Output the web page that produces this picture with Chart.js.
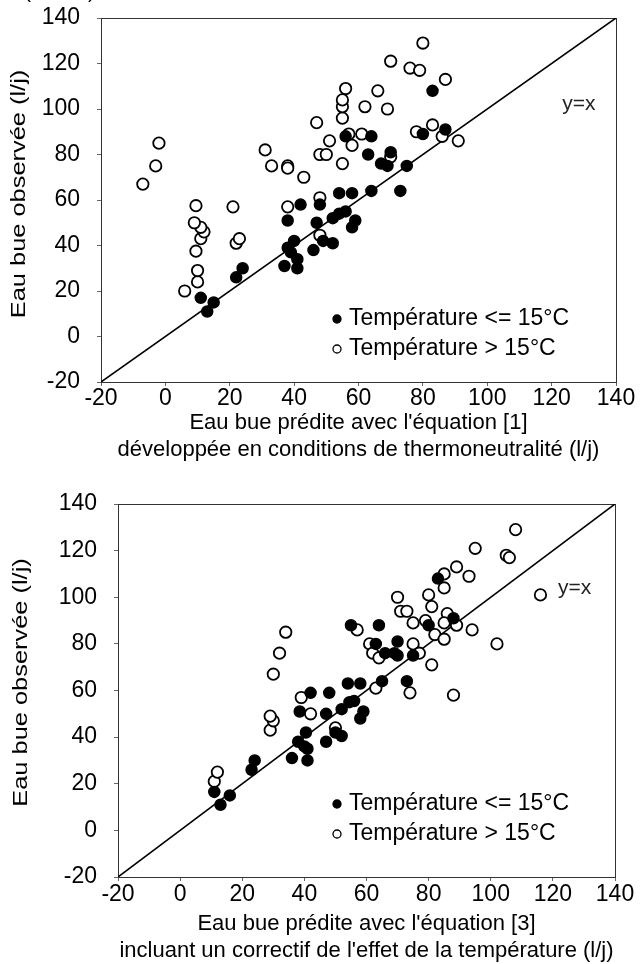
<!DOCTYPE html>
<html>
<head>
<meta charset="utf-8">
<script src="https://cdn.jsdelivr.net/npm/chart.js@4.4.0/dist/chart.umd.min.js"></script>
<style>
  html, body { margin: 0; padding: 0; background: #fff; }
  body { width: 641px; height: 964px; position: relative; overflow: hidden; }
  .bloc { position: absolute; left: 0; width: 641px; }
</style>
</head>
<body>
<div class="bloc" style="top:0;height:470px"><canvas id="graphHaut" width="641" height="470"></canvas></div>
<div class="bloc" style="top:470px;height:510px"><canvas id="graphBas" width="641" height="510"></canvas></div>
<script>
// Graduations communes aux deux axes
const graduations = [-20, 0, 20, 40, 60, 80, 100, 120, 140];
const diagonale = [-20, 140];

// Graphique 1 : équation [1] (thermoneutralité)
const froid1X = [11, 13, 15, 22, 24, 37, 38, 39, 40, 41, 41, 38, 42, 46, 47, 48, 49, 52, 52, 54, 56, 58, 59, 54, 58, 64, 73, 56, 64, 63, 70, 67, 69, 75, 80, 87, 83];
const froid1Y = [17, 11, 15, 26, 30, 31, 39, 37, 42, 34, 30, 51, 58, 38, 50, 58, 42, 41, 52, 54, 55, 48, 51, 63, 63, 64, 64, 88, 88, 80, 81, 76, 75, 75, 89, 91, 108];
const chaud1X = [-7, -3, -2, 6, 10, 10, 9.5, 11, 12, 11, 9, 9.5, 21, 22, 23, 31, 33, 38, 38, 38, 43, 47, 48, 50, 51, 55, 55, 55, 55, 56, 57, 58, 61, 48, 48, 62, 66, 69, 70, 70, 76, 79, 80, 78, 83, 86, 91, 87];
const chaud1Y = [67, 75, 85, 20, 24, 29, 37.5, 43, 46, 48, 50, 57.5, 57, 41, 43, 82, 75, 75, 74, 57, 70, 94, 80, 80, 86, 76, 96, 101, 104, 109, 89, 84, 89, 61, 44.5, 101, 108, 100, 79, 121, 118, 117, 129, 90, 93, 88, 86, 113];

// Graphique 2 : équation [3] (correctif température)
const froid2X = [11, 13, 16, 23, 24, 36, 38, 40, 40.5, 41, 41, 38.5, 42, 47, 47, 48, 50, 52, 52, 54.5, 56, 59, 58, 54, 58, 65, 73, 55, 64, 80, 88, 63, 70, 66, 69, 70, 75, 83];
const froid2Y = [16.5, 11, 15, 26, 30, 31, 38, 36, 42, 35, 30, 51, 59, 38, 50, 59, 42, 40.5, 52, 55, 55.5, 51, 48, 63, 63, 64, 64, 88, 88, 88, 91, 80, 81, 76, 76, 75, 75, 108];
const chaud2X = [11, 12, 29, 30, 29, 30, 32, 34, 39, 42, 50, 57, 61, 62, 64, 63, 74, 88, 81, 75, 77, 75, 79, 71, 73, 70, 80, 81, 85, 85, 86, 85, 89, 94, 102, 82, 85, 89, 93, 95, 105, 106, 108, 116];
const chaud2Y = [21, 25, 43, 47, 49, 67, 76, 85, 57, 50, 44, 86, 80, 76, 74, 61, 59, 58, 71, 80, 76, 89, 90, 94, 94, 100, 101, 96, 110, 104, 93, 89, 88, 86, 80, 84, 82, 113, 109, 121, 118, 117, 129, 101];

const police = 'Liberation Sans, Arial, sans-serif';
const titreY = 'Eau bue observée (l/j)';

function points(xs, ys) {
    return xs.map((x, i) => ({ x: x, y: ys[i] }));
}

// cadre complet autour de la zone de tracé
const cadre = {
    id: 'cadre',
    beforeDatasetsDraw(chart) {
        const a = chart.chartArea;
        const ctx = chart.ctx;
        ctx.save();
        ctx.strokeStyle = '#333';
        ctx.lineWidth = 1;
        ctx.strokeRect(a.left + 0.5, a.top + 0.5, a.right - a.left, a.bottom - a.top);
        ctx.restore();
    }
};

// légende dans le graphique, étiquette y=x et titre vertical (étiré comme l'original)
const legendeInterne = {
    id: 'legendeInterne',
    afterDraw(chart, args, opts) {
        const ctx = chart.ctx;
        const a = chart.chartArea;
        ctx.save();
        ctx.font = '23px ' + police;
        ctx.fillStyle = '#000';
        ctx.textBaseline = 'middle';
        let y = a.bottom - opts.bas;
        chart.data.datasets.forEach(ds => {
            if (!ds.legende) return;
            const mx = a.right - opts.droite;
            ctx.beginPath();
            ctx.arc(mx, y, 4, 0, Math.PI * 2);
            ctx.fillStyle = ds.backgroundColor;
            ctx.fill();
            ctx.lineWidth = 1.3;
            ctx.strokeStyle = '#000';
            ctx.stroke();
            ctx.fillStyle = '#000';
            ctx.fillText(ds.legende, mx + 12, y);
            y += opts.pas;
        });
        // y=x
        const sx = chart.scales.x, sy = chart.scales.y;
        ctx.font = '21px ' + police;
        ctx.fillStyle = '#222';
        ctx.textAlign = 'center';
        ctx.fillText('y=x', sx.getPixelForValue(opts.etiquetteX), sy.getPixelForValue(opts.etiquetteY));
        // titre de l'axe vertical
        ctx.save();
        ctx.translate(opts.titreX, (a.top + a.bottom) / 2 - opts.decalageTitre);
        ctx.rotate(-Math.PI / 2);
        ctx.scale(1.27, 1);
        ctx.font = '20px ' + police;
        ctx.fillStyle = '#000';
        ctx.fillText(titreY, 0, 0);
        ctx.restore();
        if (opts.fragment) {
            ctx.textAlign = 'left';
            ctx.fillStyle = '#000';
            ctx.fillText('(', 24, -8);
            ctx.fillText(')', 88, -8);
        }
        ctx.restore();
    }
};

function creerGraphique(id, froid, chaud, titreX, reglages) {
    const ctx = document.getElementById(id).getContext('2d');
    return new Chart(ctx, {
        type: 'scatter',
        data: {
            datasets: [
                {
                    legende: 'Température <= 15°C',
                    data: froid,
                    backgroundColor: '#000',
                    borderColor: '#000',
                    borderWidth: 1.5,
                    pointRadius: 5.5,
                    order: 1
                },
                {
                    legende: 'Température > 15°C',
                    data: chaud,
                    backgroundColor: '#fff',
                    borderColor: '#000',
                    borderWidth: 1.8,
                    pointRadius: 5.7,
                    order: 2
                },
                {
                    type: 'line',
                    data: points(diagonale, diagonale),
                    borderColor: '#000',
                    borderWidth: 1.6,
                    pointRadius: 0,
                    order: 3
                }
            ]
        },
        options: {
            responsive: false,
            animation: false,
            events: [],
            layout: { padding: { left: 0, top: reglages.haut, right: reglages.droite, bottom: 0 } },
            plugins: {
                legend: { display: false },
                tooltip: { enabled: false },
                legendeInterne: reglages.legende
            },
            scales: {
                x: {
                    type: 'linear',
                    min: -20,
                    max: 140,
                    afterBuildTicks: s => { s.ticks = graduations.map(v => ({ value: v })); },
                    grid: { drawOnChartArea: false, drawTicks: true, tickLength: 4, color: '#666' },
                    border: { display: true, color: '#333' },
                    ticks: {
                        color: '#000',
                        padding: reglages.tickBas,
                        maxRotation: 0,
                        autoSkip: false,
                        font: { family: police, size: 23 }
                    },
                    title: {
                        display: true,
                        text: titreX,
                        color: '#000',
                        font: { family: police, size: 22 },
                        padding: { top: 0, bottom: reglages.titreBas }
                    },
                    afterFit: s => {
                        s.height = reglages.hauteurX;
                        s.paddingLeft = 0;
                        s.paddingRight = 0;
                    }
                },
                y: {
                    type: 'linear',
                    min: -20,
                    max: 140,
                    afterBuildTicks: s => { s.ticks = graduations.map(v => ({ value: v })); },
                    grid: { drawOnChartArea: false, drawTicks: true, tickLength: 4, color: '#666' },
                    border: { display: true, color: '#333' },
                    ticks: {
                        color: '#000',
                        padding: 17,
                        autoSkip: false,
                        font: { family: police, size: 23 }
                    },
                    title: { display: false },
                    afterFit: s => {
                        s.width = reglages.largeurY;
                        s.paddingTop = 0;
                        s.paddingBottom = 0;
                    }
                }
            }
        },
        plugins: [cadre, legendeInterne]
    });
}

creerGraphique('graphHaut', points(froid1X, froid1Y), points(chaud1X, chaud1Y),
    ["Eau bue prédite avec l'équation [1]", 'développée en conditions de thermoneutralité (l/j)'],
    {
        haut: 18, droite: 25, hauteurX: 88, largeurY: 101, titreBas: 7, tickBas: -1,
        legende: { droite: 279, bas: 63, pas: 30, etiquetteX: 128.5, etiquetteY: 102, titreX: 19, decalageTitre: 6, fragment: true }
    });

creerGraphique('graphBas', points(froid2X, froid2Y), points(chaud2X, chaud2Y),
    ["Eau bue prédite avec l'équation [3]", "incluant un correctif de l'effet de la température (l/j)"],
    {
        haut: 34, droite: 26, hauteurX: 103, largeurY: 118, titreBas: 16, tickBas: 0,
        legende: { droite: 278, bas: 73, pas: 30, etiquetteX: 127, etiquetteY: 104, titreX: 21, decalageTitre: 8, fragment: false }
    });
</script>
</body>
</html>
